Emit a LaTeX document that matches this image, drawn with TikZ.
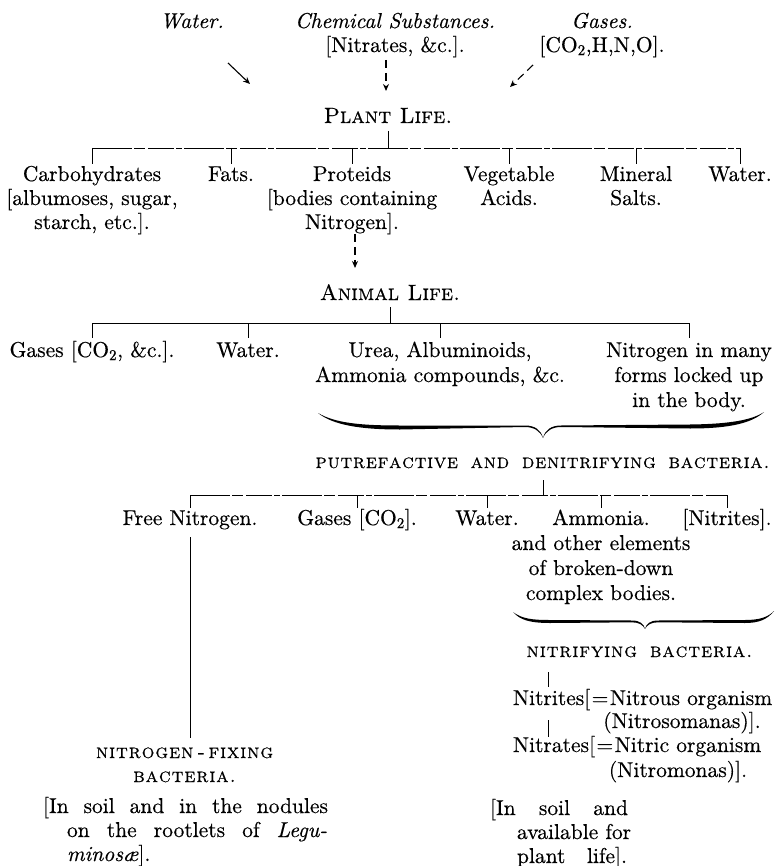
\documentclass[tikz,border=0pt]{standalone}
\usepackage{fontspec}
\setmainfont{lmroman10-regular.otf}[
  ItalicFont=lmroman10-italic.otf,
  BoldFont=lmroman10-bold.otf,
  SmallCapsFont=lmromancaps10-regular.otf,
  FakeBold=0.45]
\usetikzlibrary{arrows.meta}
\newdimen\lsk
\lsk=0.9pt
\def\lsx#1{\ifx#1\relax\else#1\kern\lsk\expandafter\lsx\fi}
\newcommand\lsp[1]{\lsx#1\relax}
\newcommand\lsw{\hspace{0.6em}}
\begin{document}
\begin{tikzpicture}[x=1pt,y=-1pt,
  every node/.style={font=\fontsize{21.5}{24}\selectfont, inner sep=0pt, outer sep=0pt, anchor=base, align=center},
  wide/.style={font=\fontsize{21.5}{25}\selectfont},
  bar/.style={line width=0.9pt},
  tick/.style={line width=0.9pt},
  brk/.style={line width=0.9pt, dash pattern=on 40pt off 2pt on 11pt off 3pt on 26pt off 2pt on 6pt off 2pt},
  arr/.style={line width=1.1pt, -{Stealth[length=7pt,width=6pt]}},
  darr/.style={arr, dash pattern=on 8pt off 5pt},
  bracefill/.style={fill=black, draw=none},
  hd/.style={font=\fontsize{22}{24}\selectfont\scshape},
  sc/.style={font=\fontsize{20}{24}\selectfont\scshape}]
\useasboundingbox (0,0) rectangle (775,866);

% ---------- top sources ----------
\node (water) at (192,28) {\itshape Water.};
\node (chem) at (395,52) {\textit{Chemical Substances.}\\{}[Nitrates, \&c.].};
\node (gases) at (602,52) {\textit{Gases.}\\{}[CO\textsubscript{2},H,N,O].};

\coordinate (wA) at (228,63); \coordinate (wB) at (250,84);
\coordinate (cA) at (386,60); \coordinate (cB) at (386,91);
\coordinate (gA) at (533,65); \coordinate (gB) at (510,87);
\draw[arr] (wA) -- (wB);
\draw[darr] (cA) -- (cB);
\draw[darr] (gA) -- (gB);

% ---------- plant life ----------
\node[hd] (plant) at (388,123) {Plant Life.};
\node (carbo) at (92,229) {Carbohydrates\\{}[albumoses, sugar,\\starch, etc.].};
\node (fats) at (231,181) {Fats.};
\node (proteids) at (352,229) {Proteids\\{}[bodies containing\\Nitrogen].};
\node (veg) at (509,205) {Vegetable\\Acids.};
\node (mineral) at (636,205) {Mineral\\Salts.};
\node (waterp) at (740,181) {Water.};

\coordinate (pbar) at (0,148);
\coordinate (ptick) at (0,164);
\draw[bar, shorten <=8pt] (plant.south) -- (plant |- pbar);
\draw[brk] (carbo |- pbar) -- (waterp |- pbar);
\foreach \n in {carbo,fats,proteids,veg,mineral,waterp}
  \draw[tick] (\n |- pbar) -- (\n |- ptick);

\coordinate (prA) at (355,234); \coordinate (prB) at (355,268);
\draw[darr] (prA) -- (prB);

% ---------- animal life ----------
\node[hd] (animal) at (390,300) {Animal Life.};
\node (gasesA) at (92,357) {Gases [CO\textsubscript{2}, \&c.].};
\node (waterA) at (248,357) {Water.};
\node[wide] (urea) at (440,382) {Urea, Albuminoids,\\Ammonia compounds, \&c.};
\node[wide] (nmany) at (689,407) {Nitrogen in many\\forms locked up\\in the body.};

\coordinate (abar) at (0,323);
\coordinate (atick) at (0,338);
\draw[bar, shorten <=7pt] (animal.south) -- (animal |- abar);
\draw[bar] (gasesA |- abar) -- (nmany |- abar);
\foreach \n in {gasesA,waterA,urea,nmany}
  \draw[tick] (\n |- abar) -- (\n |- atick);

% brace 1
\fill[bracefill] (318,413) .. controls (335,423) and (360,425.5) .. (400,425.5)
  -- (525,425.5) .. controls (535,425.5) and (541,430) .. (543,438)
  .. controls (545,430) and (551,425.5) .. (561,425.5)
  -- (690,424.5) .. controls (730,424) and (752,420) .. (764,412)
  .. controls (752,423) and (730,428.5) .. (690,428.5)
  -- (561,427) .. controls (552,427) and (546,431) .. (543,438)
  .. controls (540,431) and (534,427) .. (525,427)
  -- (400,429.5) .. controls (360,429.5) and (333,425) .. (318,413) -- cycle;

% ---------- putrefactive bacteria ----------
\node[sc] (putref) at (543,468) {\lsk=0.72pt\lsp{putrefactive}\lsw\lsp{and}\lsw\lsp{denitrifying}\lsw\lsp{bacteria.}};
\node (freeN) at (190,525) {Free Nitrogen.};
\node (gasesB) at (357,525) {Gases [CO\textsubscript{2}].};
\node (waterB) at (487,525) {Water.};
\node[wide] (ammonia) at (601,600) {Ammonia.\\and other elements\\of broken-down\\complex bodies.};
\node (nitritesB) at (727,525) {[Nitrites].};

\coordinate (qbar) at (0,495);
\coordinate (qtick) at (0,508);
\draw[bar, shorten <=12pt] (putref.south) -- (putref |- qbar);
\draw[brk] (freeN |- qbar) -- (nitritesB |- qbar);
\foreach \n in {freeN,gasesB,waterB,ammonia,nitritesB}
  \draw[tick] (\n |- qbar) -- (\n |- qtick);

% brace 2
\fill[bracefill] (513,612) .. controls (522,619) and (533,620) .. (550,620)
  -- (632,620.5) .. controls (640,620.5) and (644,624) .. (645,629)
  .. controls (646,624) and (650,620.5) .. (658,620.5)
  -- (745,620) .. controls (760,620) and (768,617) .. (774,611)
  .. controls (767,620) and (758,623) .. (745,623)
  -- (658,622.3) .. controls (651,622.3) and (647,625) .. (645,629)
  .. controls (643,625) and (639,622.3) .. (632,622.3)
  -- (550,623) .. controls (530,623) and (520,620) .. (513,612) -- cycle;

% ---------- nitrogen fixing ----------
\node[sc] (nfix) at (185,782) {\lsp{nitrogen}\,-\,\lsp{fixing}\\\lsp{bacteria.}};
\draw[bar, shorten <=8pt, shorten >=9pt] (freeN.south) -- (freeN.south |- nfix.north);
\node[anchor=base west, align=left] (soilL) at (43,861)
  {\makebox[285pt][s]{[In soil and in the nodules}\\
   \hspace*{24pt}\makebox[260pt][s]{on the rootlets of \textit{Legu-}}\\
   \hspace*{24pt}\textit{minosæ}].};

% ---------- nitrifying ----------
\node[sc] (nitrif) at (640,657) {\lsp{nitrifying}\lsw\lsp{bacteria.}};
\node[anchor=base west] (nitritesW) at (513,705) {Nitrites};
\node[anchor=base west] (nitrous) at (nitritesW.base east) {[\kern1.5pt=\kern1.5pt Nitrous organism};
\node (nitroso) at (682,728) {(Nitrosomanas)].};
\node[anchor=base west] (nitratesW) at (513,752) {Nitrates};
\node[anchor=base west] (nitric) at (nitratesW.base east) {[\kern1.5pt=\kern1.5pt Nitric organism};
\node (nitromo) at (678,777) {(Nitromonas)].};
\draw[tick, shorten <=15pt, shorten >=3pt] (nitritesW |- nitrif.south) -- (nitritesW.north);
\draw[tick, shorten <=15pt] (nitritesW.south) -- (nitritesW.south |- nitratesW.north);

\node[anchor=base west, align=left] (soilR) at (490,863)
  {\makebox[138pt][s]{[In soil and}\\
   \hspace*{27pt}available for\\
   \hspace*{27pt}\makebox[110pt][s]{plant life].}};
\end{tikzpicture}
\end{document}
